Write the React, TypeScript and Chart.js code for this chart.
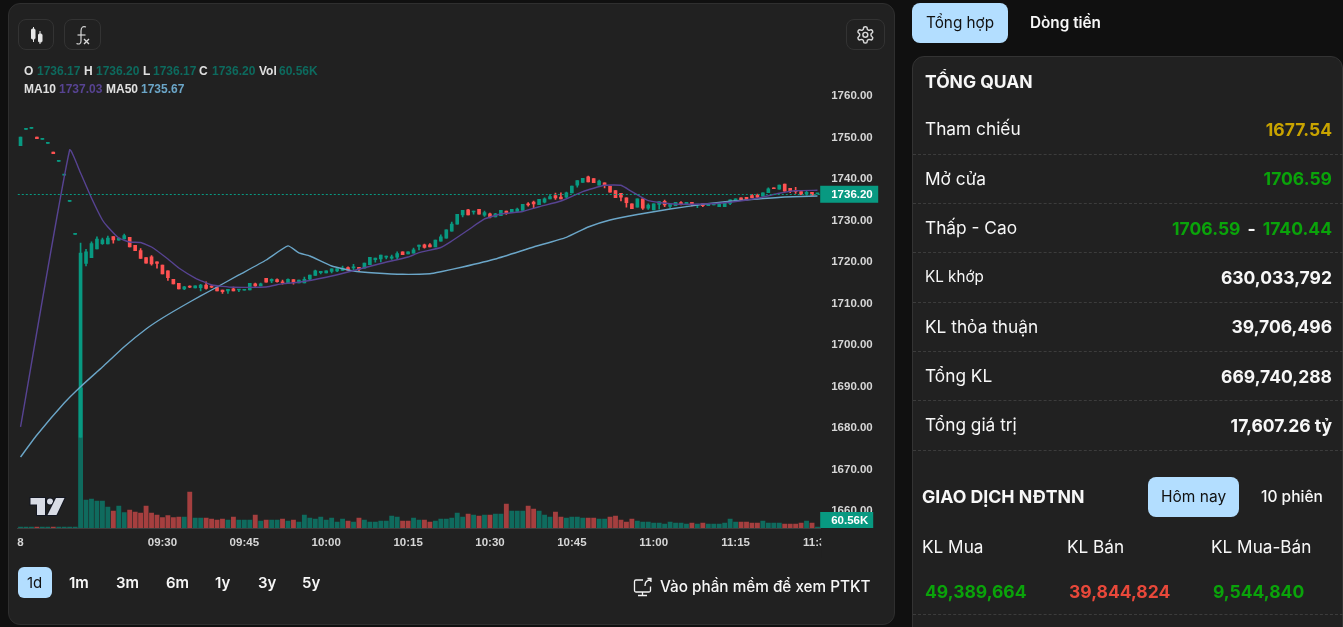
import { useEffect, useRef } from 'react';
import { Chart, registerables } from 'chart.js';

Chart.register(...registerables);

const opens = [
  1747.78, 1751.7, 1751.95, 1749.88, 1749.3, 1748.33, 1746.27, 1744.0, 1740.7, 1734.37,
  1726.4, 1677.54, 1719.4, 1720.8, 1722.9, 1724.2, 1724.1, 1725.9, 1725.0, 1725.3,
  1725.7, 1723.8, 1722.5, 1720.8, 1721.0, 1719.8, 1719.0, 1717.6, 1715.6, 1714.6,
  1713.3, 1713.9, 1713.5, 1713.6, 1714.2, 1713.85, 1713.6, 1713.0, 1712.8, 1713.3,
  1713.0, 1712.95, 1713.0, 1714.5, 1714.0, 1715.8, 1715.2, 1715.5, 1714.95, 1714.6,
  1715.5, 1714.7, 1714.7, 1715.6, 1716.5, 1717.2, 1717.1, 1717.5, 1717.6, 1717.7,
  1718.4, 1718.35, 1718.5, 1718.3, 1719.1, 1720.3, 1720.5, 1720.9, 1720.7, 1720.9,
  1722.2, 1721.7, 1721.9, 1723.5, 1723.9, 1723.9, 1723.4, 1724.8, 1725.5, 1727.2,
  1728.9, 1731.1, 1732.3, 1731.8, 1732.45, 1731.05, 1731.35, 1730.6, 1730.9, 1732.0,
  1731.65, 1731.95, 1732.2, 1733.8, 1734.2, 1733.6, 1734.15, 1734.95, 1735.75, 1735.4,
  1735.4, 1736.4, 1738.3, 1738.95, 1740.3, 1739.85, 1738.25, 1738.85, 1738.0, 1736.95,
  1736.3, 1735.2, 1733.75, 1732.95, 1734.95, 1732.7, 1732.3, 1733.65, 1734.4, 1733.15,
  1733.35, 1734.05, 1733.8, 1734.15, 1733.5, 1733.75, 1733.35, 1733.5, 1733.1, 1733.1,
  1733.9, 1734.4, 1735.2, 1735.35, 1735.75, 1735.9, 1735.65, 1736.45, 1737.6, 1737.3,
  1738.55, 1737.5, 1736.95, 1736.7, 1736.1, 1736.55, 1736.17,
];
const closes = [
  1749.88, 1751.75, 1752.0, 1749.47, 1749.35, 1748.38, 1745.86, 1744.05, 1740.75, 1734.42,
  1726.45, 1721.9, 1722.2, 1724.2, 1725.3, 1725.1, 1725.5, 1725.1, 1725.5, 1726.1,
  1723.4, 1722.5, 1720.6, 1719.5, 1719.3, 1719.4, 1716.9, 1716.0, 1714.5, 1713.3,
  1713.8, 1713.7, 1714.0, 1714.2, 1713.4, 1713.7, 1712.8, 1712.6, 1713.2, 1712.8,
  1713.2, 1713.2, 1714.6, 1714.0, 1714.5, 1714.9, 1715.6, 1715.0, 1714.75, 1715.6,
  1714.8, 1715.4, 1715.6, 1716.6, 1717.6, 1717.5, 1717.6, 1718.1, 1718.2, 1718.3,
  1717.8, 1718.6, 1718.0, 1719.5, 1720.9, 1720.7, 1721.4, 1721.2, 1721.0, 1721.8,
  1721.5, 1722.2, 1722.7, 1723.85, 1723.3, 1723.4, 1725.05, 1725.85, 1727.5, 1728.9,
  1731.25, 1732.2, 1731.1, 1732.05, 1731.3, 1731.65, 1730.6, 1731.35, 1732.2, 1731.65,
  1732.45, 1732.5, 1733.65, 1733.5, 1733.75, 1734.85, 1735.0, 1735.5, 1735.2, 1734.95,
  1736.4, 1738.05, 1739.35, 1739.9, 1739.05, 1738.85, 1739.25, 1738.3, 1736.6, 1735.25,
  1735.35, 1734.05, 1732.6, 1735.0, 1732.7, 1733.5, 1733.75, 1734.3, 1733.5, 1733.8,
  1734.15, 1733.8, 1734.15, 1733.6, 1733.65, 1733.35, 1733.9, 1733.9, 1733.65, 1734.2,
  1734.75, 1734.95, 1734.55, 1734.7, 1735.25, 1735.4, 1736.45, 1737.4, 1737.4, 1738.3,
  1736.85, 1736.85, 1736.7, 1736.0, 1736.55, 1735.85, 1736.2,
];
const highs = [
  1749.88, 1751.75, 1752.0, 1749.88, 1749.35, 1748.38, 1746.27, 1744.05, 1740.75, 1734.42,
  1726.45, 1724.3, 1722.8, 1724.6, 1725.8, 1725.5, 1726.0, 1725.9, 1725.6, 1726.5,
  1725.7, 1723.8, 1723.0, 1720.8, 1721.3, 1719.8, 1719.0, 1717.6, 1715.6, 1714.6,
  1713.9, 1714.0, 1714.0, 1714.4, 1715.0, 1714.2, 1713.6, 1713.0, 1713.2, 1713.7,
  1713.2, 1713.2, 1714.6, 1714.7, 1714.7, 1715.8, 1715.7, 1715.7, 1715.4, 1715.7,
  1715.5, 1715.4, 1716.1, 1716.6, 1717.8, 1717.5, 1717.6, 1718.1, 1718.2, 1718.8,
  1718.6, 1719.2, 1718.5, 1719.5, 1720.9, 1720.7, 1721.4, 1721.2, 1721.4, 1722.2,
  1722.2, 1722.2, 1723.1, 1723.85, 1724.1, 1724.2, 1725.05, 1726.3, 1727.5, 1729.4,
  1731.25, 1732.2, 1732.45, 1732.05, 1732.45, 1732.0, 1731.55, 1731.5, 1732.2, 1732.0,
  1732.45, 1732.75, 1733.65, 1734.05, 1734.45, 1734.85, 1735.25, 1736.05, 1736.35, 1736.4,
  1736.6, 1738.05, 1739.35, 1739.9, 1740.44, 1739.85, 1739.5, 1738.85, 1738.0, 1736.95,
  1736.3, 1735.2, 1733.75, 1735.0, 1734.95, 1733.75, 1733.75, 1734.3, 1734.7, 1733.8,
  1734.15, 1734.3, 1734.15, 1734.15, 1733.65, 1733.75, 1733.9, 1733.9, 1733.65, 1734.2,
  1734.75, 1734.95, 1735.2, 1735.35, 1736.05, 1736.15, 1736.45, 1737.6, 1737.6, 1738.3,
  1738.55, 1737.5, 1737.75, 1736.7, 1736.95, 1736.55, 1736.2,
];
const lows = [
  1747.78, 1751.7, 1751.95, 1749.47, 1749.3, 1748.33, 1745.86, 1744.0, 1740.7, 1734.37,
  1726.4, 1677.54, 1718.8, 1720.8, 1722.9, 1724.0, 1724.1, 1724.3, 1725.0, 1725.3,
  1723.4, 1722.5, 1720.6, 1719.5, 1719.0, 1718.3, 1716.9, 1715.3, 1714.5, 1713.3,
  1713.1, 1713.6, 1713.5, 1712.8, 1713.2, 1713.6, 1712.8, 1712.2, 1712.2, 1712.8,
  1712.6, 1712.95, 1713.0, 1713.9, 1714.0, 1714.9, 1714.8, 1714.9, 1714.4, 1714.6,
  1714.4, 1714.7, 1714.7, 1715.3, 1716.5, 1716.9, 1717.1, 1717.1, 1717.4, 1717.7,
  1717.8, 1717.8, 1717.6, 1718.3, 1719.1, 1719.7, 1719.8, 1720.5, 1720.4, 1720.5,
  1721.5, 1721.7, 1721.9, 1722.65, 1723.1, 1723.4, 1723.4, 1724.8, 1725.5, 1727.2,
  1728.9, 1730.6, 1731.1, 1731.3, 1731.3, 1730.75, 1730.35, 1730.6, 1730.9, 1731.25,
  1731.65, 1731.75, 1732.2, 1733.2, 1732.75, 1733.6, 1734.0, 1734.95, 1734.85, 1734.95,
  1735.25, 1736.4, 1737.8, 1738.95, 1739.05, 1738.85, 1738.25, 1737.6, 1736.6, 1735.25,
  1734.45, 1732.95, 1732.6, 1732.95, 1732.45, 1732.45, 1732.3, 1732.5, 1733.1, 1732.75,
  1733.35, 1733.5, 1733.5, 1733.25, 1732.85, 1733.1, 1733.35, 1733.5, 1733.1, 1733.1,
  1733.55, 1734.4, 1734.55, 1734.7, 1735.25, 1735.1, 1735.65, 1736.45, 1737.4, 1737.3,
  1736.85, 1736.45, 1736.3, 1736.0, 1735.85, 1735.85, 1736.17,
];
// volume in thousands
const volumes = [
  60, 60, 60, 60, 60, 60, 60, 60, 60, 60,
  60, 8400, 1680, 1740, 1620, 1620, 1260, 1020, 1320, 930,
  1080, 960, 900, 1320, 900, 780, 630, 750, 630, 660,
  660, 2160, 600, 600, 600, 540, 480, 540, 480, 660,
  480, 480, 480, 780, 420, 480, 480, 480, 540, 420,
  480, 360, 780, 600, 540, 660, 480, 600, 360, 540,
  420, 360, 600, 480, 360, 360, 420, 420, 720, 660,
  420, 420, 600, 480, 480, 360, 420, 540, 540, 600,
  900, 660, 840, 780, 720, 780, 780, 840, 840, 1440,
  1020, 1020, 1020, 1320, 1140, 1020, 780, 660, 960, 660,
  600, 660, 660, 600, 600, 600, 540, 540, 660, 720,
  480, 360, 540, 420, 360, 360, 300, 300, 240, 360,
  300, 300, 240, 300, 240, 300, 240, 240, 240, 300,
  540, 360, 360, 360, 300, 300, 420, 300, 300, 300,
  240, 240, 240, 300, 420, 300, 60.56,
];
const volumeDownBars = [
  3, 6, 17, 20, 21, 22, 23, 24, 25, 26, 27, 28, 29, 31, 34, 35, 36, 37, 39, 43, 45, 48, 50, 60, 62, 70, 71,
  74, 75, 82, 84, 86, 89, 93, 94, 98, 99, 104, 105, 108, 109, 110, 111, 112, 123, 125, 132, 133, 134, 135,
  140, 141, 142, 143, 145,
];

const ma10Bars = [
  0, 9, 11, 13, 15, 16, 18, 20, 22, 24, 27, 29, 32, 35, 39, 45, 48, 51, 56, 60, 66, 71, 73, 77, 79, 82, 85,
  88, 92, 95, 99, 103, 107, 110, 112, 115, 119, 125, 130, 135, 139, 142, 146,
];
const ma10Values = [
  1680.0, 1746.75, 1741.2, 1735.18, 1729.88, 1728.19, 1725.54, 1724.58, 1724.46, 1723.37, 1720.48, 1718.31,
  1715.9, 1714.22, 1713.66, 1713.73, 1714.55, 1714.87, 1716.07, 1717.35, 1719.4, 1720.96, 1722.0, 1723.25,
  1724.82, 1727.47, 1730.12, 1731.33, 1731.93, 1733.08, 1734.46, 1736.7, 1738.24, 1738.24, 1736.7, 1734.53,
  1733.81, 1733.73, 1734.15, 1735.11, 1736.31, 1736.94, 1737.03,
];
const ma50Bars = [
  0, 3, 8, 11, 15, 19, 23, 26, 31, 35, 40, 45, 49, 51, 53, 57, 61, 65, 70, 75, 77, 81, 87, 94, 100, 104, 108,
  113, 119, 125, 130, 135, 140, 146,
];
const ma50Values = [
  1672.77, 1678.07, 1685.78, 1689.71, 1694.46, 1699.35, 1703.62, 1706.27, 1710.12, 1713.01, 1716.63, 1720.24,
  1723.63, 1721.93, 1721.2, 1718.79, 1717.59, 1717.11, 1716.79, 1716.94, 1717.42, 1718.55, 1720.48, 1723.37,
  1725.71, 1728.19, 1729.88, 1731.2, 1732.53, 1733.66, 1734.39, 1734.94, 1735.42, 1735.66,
];

const priceTicks = [1660, 1670, 1680, 1690, 1700, 1710, 1720, 1730, 1740, 1750, 1760];
const timeTicks = ['09:30', '09:45', '10:00', '10:15', '10:30', '10:45', '11:00', '11:15', '11:30'];
const lastPrice = 1736.2;
const lastVolumeLabel = '60.56K';

// one bar per minute starting at 09:04
const categories = opens.map((_, i) => {
  const m = 9 * 60 + 4 + i;
  return `${String(Math.floor(m / 60)).padStart(2, '0')}:${String(m % 60).padStart(2, '0')}`;
});

const spread = (bars: number[], values: number[]) => {
  const out: (number | null)[] = opens.map(() => null);
  bars.forEach((b, i) => {
    out[b] = values[i];
  });
  return out;
};

const TEAL = '#089981';
const RED = '#ff5252';
const CARD = '#212121';
const axisFont = { family: '"Liberation Sans", Arial, sans-serif', size: 11.5, weight: 'bold' as const };

const lastTagsPlugin = {
  id: 'lastTags',
  afterDraw(chart: any) {
    const { ctx, chartArea } = chart;
    const y = chart.scales.y.getPixelForValue(lastPrice);
    ctx.save();
    // time labels are cut off at the price scale
    ctx.fillStyle = CARD;
    ctx.fillRect(chartArea.right + 1, chartArea.bottom + 2, 70, 28);
    ctx.strokeStyle = TEAL;
    ctx.lineWidth = 1;
    ctx.setLineDash([2, 2]);
    ctx.beginPath();
    ctx.moveTo(chartArea.left, Math.round(y) + 0.5);
    ctx.lineTo(chartArea.right, Math.round(y) + 0.5);
    ctx.stroke();
    ctx.setLineDash([]);
    ctx.fillStyle = TEAL;
    ctx.fillRect(chartArea.right, y - 8, 58, 17);
    ctx.fillRect(chartArea.right, chartArea.bottom - 16, 53, 16);
    ctx.fillStyle = '#fff';
    ctx.font = 'bold 11.5px "Liberation Sans", Arial, sans-serif';
    ctx.textBaseline = 'middle';
    ctx.textAlign = 'left';
    ctx.fillText(lastPrice.toFixed(2), chartArea.right + 11, y + 1.5);
    ctx.fillText(lastVolumeLabel, chartArea.right + 11, chartArea.bottom - 7);
    ctx.restore();
  },
};

function CandleChart() {
  const canvasRef = useRef<HTMLCanvasElement>(null);

  useEffect(() => {
    if (!canvasRef.current) return;
    const isUp = (i: number) => closes[i] >= opens[i];
    const chart = new Chart(canvasRef.current, {
      type: 'bar',
      data: {
        labels: categories,
        datasets: [
          {
            type: 'line',
            label: 'MA10',
            data: spread(ma10Bars, ma10Values),
            borderColor: '#574392',
            borderWidth: 1.4,
            pointRadius: 0,
            spanGaps: true,
            tension: 0.15,
            order: 0,
          },
          {
            type: 'line',
            label: 'MA50',
            data: spread(ma50Bars, ma50Values),
            borderColor: '#6ba6c8',
            borderWidth: 1.4,
            pointRadius: 0,
            spanGaps: true,
            tension: 0.15,
            order: 0,
          },
          {
            label: 'Body',
            data: opens.map((o, i) => [o, closes[i]]),
            backgroundColor: opens.map((_, i) => (isUp(i) ? TEAL : RED)),
            barThickness: 3,
            minBarLength: 1,
            grouped: false,
            order: 1,
          },
          {
            label: 'Wick',
            data: lows.map((l, i) => [l, highs[i]]),
            backgroundColor: opens.map((_, i) => (isUp(i) ? TEAL : RED)),
            barThickness: 1,
            grouped: false,
            order: 2,
          },
          {
            label: 'Vol',
            data: volumes,
            yAxisID: 'yVol',
            backgroundColor: volumes.map((_, i) => (volumeDownBars.includes(i) ? '#a53f3f' : '#0f6b5e')),
            barThickness: 4.2,
            minBarLength: 1,
            grouped: false,
            order: 3,
          },
        ] as any,
      },
      options: {
        animation: false,
        responsive: false,
        events: [],
        layout: { padding: { left: 17.8, top: 63, right: 0, bottom: 0 } },
        plugins: { legend: { display: false }, tooltip: { enabled: false } },
        scales: {
          x: {
            grid: { display: false, drawTicks: false },
            border: { display: true, color: '#3d3d3d' },
            ticks: {
              color: '#d6d6d6',
              font: axisFont,
              padding: 8,
              maxRotation: 0,
              autoSkip: false,
              callback(this: any, value: any, index: number) {
                if (index === 0) return '8';
                const label = this.getLabelForValue(value);
                return timeTicks.includes(label) ? label : '';
              },
            },
            afterFit(scale: any) {
              scale.height = 32;
              scale.paddingLeft = 0;
              scale.paddingRight = 0;
            },
          },
          y: {
            position: 'right',
            min: 1655.66,
            max: 1767.71,
            grid: { display: false, drawTicks: false },
            border: { display: false },
            ticks: {
              color: '#d6d6d6',
              font: axisFont,
              padding: 11,
              labelOffset: 1,
              callback: (v: any) => Number(v).toFixed(2),
            },
            afterBuildTicks(scale: any) {
              scale.ticks = priceTicks.map((value) => ({ value }));
            },
            afterFit(scale: any) {
              scale.width = 74.8;
              scale.paddingTop = 0;
              scale.paddingBottom = 0;
            },
          },
          yVol: { display: false, min: 0, max: 27900 },
        },
      },
      plugins: [lastTagsPlugin],
    } as any);
    return () => chart.destroy();
  }, []);

  return (
    <canvas
      ref={canvasRef}
      width={895}
      height={560}
      style={{ position: 'absolute', left: 0, top: 0, width: 895, height: 560 }}
    />
  );
}

const UI = 'Inter, "Noto Sans", sans-serif';
const BLUE = '#b3deff';
const GREEN = '#0aa30a';
const WHITE = '#f7f7f7';

function T({ x, y, right, size = 16, weight = 400, color = WHITE, font = UI, spacing, children }: any) {
  return (
    <span
      style={{
        position: 'absolute',
        left: right === undefined ? x : undefined,
        right,
        top: y,
        transform: 'translateY(-50%)',
        fontFamily: font,
        fontSize: size,
        fontWeight: weight,
        color,
        letterSpacing: spacing,
        lineHeight: 1.2,
        whiteSpace: 'nowrap',
      }}
    >
      {children}
    </span>
  );
}

function Box({ x, y, w, h, bg, border, radius = 8 }: any) {
  return (
    <div
      style={{
        position: 'absolute',
        left: x,
        top: y,
        width: w,
        height: h,
        background: bg,
        border,
        borderRadius: radius,
        boxSizing: 'border-box',
      }}
    />
  );
}

function Icons() {
  return (
    <svg width={1343} height={627} style={{ position: 'absolute', left: 0, top: 0, pointerEvents: 'none' }}>
      <g stroke="#e6e6e6" fill="#e6e6e6">
        <line x1={33.5} y1={27} x2={33.5} y2={42} strokeWidth={1} />
        <rect x={31.5} y={29} width={3.5} height={10} rx={1} />
        <line x1={40} y1={31} x2={40} y2={44} strokeWidth={1} />
        <rect x={38.5} y={34} width={3.5} height={8} rx={1} />
      </g>
      <g stroke="#d8d8d8" fill="none" strokeWidth={1.2}>
        <path d="M86 27c-3-1-5 0-5 4v10c0 3-2 3.5-4.5 2.5" />
        <path d="M77.5 35h8" />
        <path d="M84 39l5 5M89 39l-5 5" strokeWidth={1.4} />
      </g>
      <g transform="translate(855.5 25) scale(0.82)" stroke="#d8d8d8" fill="none" strokeWidth={1.8}>
        <path d="M12.22 2h-.44a2 2 0 0 0-2 2v.18a2 2 0 0 1-1 1.73l-.43.25a2 2 0 0 1-2 0l-.15-.08a2 2 0 0 0-2.73.73l-.22.38a2 2 0 0 0 .73 2.73l.15.1a2 2 0 0 1 1 1.72v.51a2 2 0 0 1-1 1.74l-.15.09a2 2 0 0 0-.73 2.73l.22.38a2 2 0 0 0 2.73.73l.15-.08a2 2 0 0 1 2 0l.43.25a2 2 0 0 1 1 1.73V20a2 2 0 0 0 2 2h.44a2 2 0 0 0 2-2v-.18a2 2 0 0 1 1-1.73l.43-.25a2 2 0 0 1 2 0l.15.08a2 2 0 0 0 2.73-.73l.22-.39a2 2 0 0 0-.73-2.73l-.15-.08a2 2 0 0 1-1-1.74v-.5a2 2 0 0 1 1-1.74l.15-.09a2 2 0 0 0 .73-2.73l-.22-.38a2 2 0 0 0-2.73-.73l-.15.08a2 2 0 0 1-2 0l-.43-.25a2 2 0 0 1-1-1.73V4a2 2 0 0 0-2-2z" />
        <circle cx={12} cy={12} r={3} />
      </g>
      <g fill="#d9dce5" stroke="#131722" strokeWidth={2} paintOrder="stroke">
        <path d="M30.5 498h14.5v17h-8v-10.5h-6.5z" />
        <circle cx={50} cy={501.5} r={3} />
        <path d="M56 498h8.5l-8 17h-9z" />
      </g>
      <g stroke="#f2f2f2" fill="none" strokeWidth={1.3}>
        <path d="M643 580h-7a1.5 1.5 0 0 0-1.5 1.5v9a1.5 1.5 0 0 0 1.5 1.5h13a1.5 1.5 0 0 0 1.5-1.5v-4" />
        <path d="M642.5 592v3M638 595.5h9" />
        <path d="M645 586c0-4 2-6 5.5-6M647.5 578.5h3.5v3.5" />
      </g>
    </svg>
  );
}

const legendFont = '"Liberation Sans", Arial, sans-serif';
const LEGEND_LABEL = '#e0e0e0';
const LEGEND_VALUE = '#0d6a5e';

const overviewRows = [
  { label: 'KL khớp', value: '630,033,792', y: 277, size: 15.2 },
  { label: 'KL thỏa thuận', value: '39,706,496', y: 326.5 },
  { label: 'Tổng KL', value: '669,740,288', y: 376 },
  { label: 'Tổng giá trị', value: '17,607.26 tỷ', y: 425 },
];
const rowLines = [154, 203, 252, 302, 351, 400, 450, 614];
const periods = [
  { t: '1m', x: 69 },
  { t: '3m', x: 116 },
  { t: '6m', x: 166 },
  { t: '1y', x: 215 },
  { t: '3y', x: 258 },
  { t: '5y', x: 302 },
];

export default function App() {
  return (
    <div style={{ position: 'fixed', inset: 0, background: '#101010', overflow: 'hidden' }}>
      <Box x={8} y={3} w={887} h={622} bg={CARD} border="1px solid #2f2f2f" radius={12} />
      <Box x={18} y={19} w={36} h={31} border="1px solid #333" />
      <Box x={64} y={19} w={37} h={31} border="1px solid #333" />
      <Box x={846} y={19} w={39} h={31} border="1px solid #333" />

      <CandleChart />
      <Icons />

      <T x={24} y={71} size={12} weight={700} font={legendFont} color={LEGEND_LABEL}>O</T>
      <T x={37} y={71} size={12} weight={700} font={legendFont} color={LEGEND_VALUE}>1736.17</T>
      <T x={84} y={71} size={12} weight={700} font={legendFont} color={LEGEND_LABEL}>H</T>
      <T x={96} y={71} size={12} weight={700} font={legendFont} color={LEGEND_VALUE}>1736.20</T>
      <T x={143} y={71} size={12} weight={700} font={legendFont} color={LEGEND_LABEL}>L</T>
      <T x={153} y={71} size={12} weight={700} font={legendFont} color={LEGEND_VALUE}>1736.17</T>
      <T x={199} y={71} size={12} weight={700} font={legendFont} color={LEGEND_LABEL}>C</T>
      <T x={212} y={71} size={12} weight={700} font={legendFont} color={LEGEND_VALUE}>1736.20</T>
      <T x={259} y={71} size={12} weight={700} font={legendFont} color={LEGEND_LABEL}>Vol</T>
      <T x={279} y={71} size={12} weight={700} font={legendFont} color={LEGEND_VALUE}>60.56K</T>
      <T x={24} y={88.5} size={12} weight={700} font={legendFont} color={LEGEND_LABEL}>MA10</T>
      <T x={59} y={88.5} size={12} weight={700} font={legendFont} color="#574392">1737.03</T>
      <T x={106} y={88.5} size={12} weight={700} font={legendFont} color={LEGEND_LABEL}>MA50</T>
      <T x={141} y={88.5} size={12} weight={700} font={legendFont} color="#6ba6c8">1735.67</T>

      <Box x={18} y={567} w={34} h={31} bg={BLUE} radius={6} />
      <T x={27} y={583} size={15} weight={400} color="#111">1d</T>
      {periods.map((p) => (
        <T key={p.t} x={p.x} y={582.5} size={15} weight={600}>{p.t}</T>
      ))}
      <T x={660} y={587} size={15.3} weight={500}>Vào phần mềm để xem PTKT</T>

      <Box x={912} y={3} w={96} h={40} bg={BLUE} />
      <T x={926} y={22.5} size={15.3} color="#111">Tổng hợp</T>
      <T x={1030} y={22.5} size={15.3} weight={600}>Dòng tiền</T>

      <Box x={912} y={56} w={431} h={600} bg={CARD} border="1px solid #333" radius={12} />
      <T x={925} y={80.5} size={17.5} weight={700}>TỔNG QUAN</T>
      {rowLines.map((y) => (
        <div key={y} style={{ position: 'absolute', left: 913, width: 430, top: y, borderTop: '1px dashed #3c3c3c' }} />
      ))}
      <T x={925} y={129} size={17.3}>Tham chiếu</T>
      <T right={11} y={129} size={17.5} weight={700} color="#c9a400">1677.54</T>
      <T x={925} y={178.5} size={17.3}>Mở cửa</T>
      <T right={11} y={178} size={17.5} weight={700} color={GREEN}>1706.59</T>
      <T x={925} y={228} size={17.3}>Thấp - Cao</T>
      <T right={11} y={227.5} size={17.5} weight={700} color={GREEN}>
        1706.59<span style={{ color: WHITE, margin: '0 7px' }}>-</span>1740.44
      </T>
      {overviewRows.map((r) => (
        <span key={r.label}>
          <T x={925} y={r.y} size={r.size ?? 17.3}>{r.label}</T>
          <T right={11} y={r.y - 0.5} size={17.5} weight={700}>{r.value}</T>
        </span>
      ))}

      <T x={922} y={497} size={17.7} weight={700}>GIAO DỊCH NĐTNN</T>
      <Box x={1148} y={477} w={91} h={40} bg={BLUE} />
      <T x={1161} y={497} size={15.5} color="#111">Hôm nay</T>
      <T x={1261} y={497} size={15.5} weight={500}>10 phiên</T>
      <T x={922} y={547} size={17.2}>KL Mua</T>
      <T x={1067} y={547} size={17.2}>KL Bán</T>
      <T x={1211} y={547} size={17.2}>KL Mua-Bán</T>
      <T x={925} y={591} size={17.5} weight={700} color={GREEN}>49,389,664</T>
      <T x={1069} y={591} size={17.5} weight={700} color="#e8483a">39,844,824</T>
      <T x={1213} y={591} size={17.5} weight={700} color={GREEN}>9,544,840</T>
    </div>
  );
}
